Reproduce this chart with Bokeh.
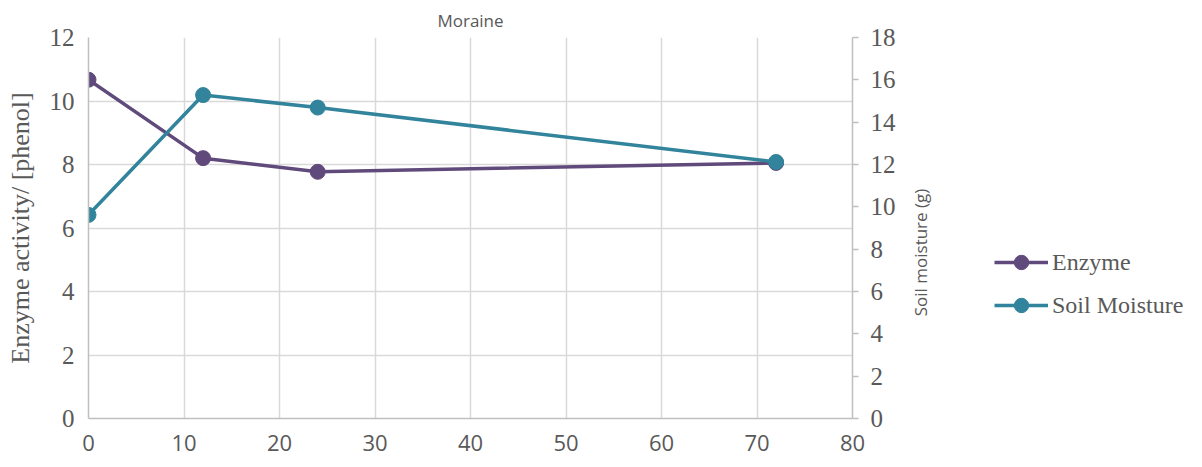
import math
from bokeh.plotting import figure
from bokeh.layouts import row
from bokeh.models import Range1d, LinearAxis, Legend, LegendItem, FixedTicker, Title, Label
from bokeh.embed import file_html
from bokeh.resources import INLINE

hours = [0, 12, 24, 72]
enzyme = [10.67, 8.2, 7.77, 8.05]
moisture = [9.62, 15.28, 14.69, 12.12]
x_ticks = [0, 10, 20, 30, 40, 50, 60, 70, 80]
left_ticks = [0, 2, 4, 6, 8, 10, 12]
right_ticks = [0, 2, 4, 6, 8, 10, 12, 14, 16, 18]

PURPLE = "#604a7b"
TEAL = "#31849b"
GRID = "#d9d9d9"
AXIS = "#bfbfbf"
TXT = "#595959"

MAIN_W = 905
FRAME_BOTTOM = 418
p = figure(width=MAIN_W, height=467, output_backend="svg", toolbar_location=None,
           x_range=Range1d(0, 80), y_range=Range1d(0, 12),
           min_border_left=88, min_border_right=MAIN_W - 852, min_border_top=37,
           min_border_bottom=467 - FRAME_BOTTOM)
p.extra_y_ranges = {"m": Range1d(0, 18)}

p.outline_line_color = None
p.title = Title(text="Moraine", align="center",
                text_font="Open Sans", text_font_size="17px",
                text_color=TXT, text_font_style="normal", offset=0, standoff=11)

p.xaxis.ticker = FixedTicker(ticks=x_ticks)
p.yaxis.ticker = FixedTicker(ticks=left_ticks)
for ax in (p.xaxis[0], p.yaxis[0]):
    ax.axis_line_color = AXIS
    ax.axis_line_width = 1.5
    ax.major_tick_line_color = None
    ax.minor_tick_line_color = None
    ax.major_label_text_color = TXT
p.xaxis.major_label_text_font = "Open Sans"
p.xaxis.major_label_text_font_size = "22px"
p.xaxis.major_label_standoff = 10
p.yaxis.major_label_text_font = "Liberation Serif"
p.yaxis.major_label_text_font_size = "25px"
p.yaxis.major_label_standoff = 8
p.yaxis.axis_label = "Enzyme activity/ [phenol]"
p.yaxis.axis_label_text_font = "Liberation Serif"
p.yaxis.axis_label_text_font_size = "26px"
p.yaxis.axis_label_text_font_style = "normal"
p.yaxis.axis_label_text_color = TXT
p.yaxis.axis_label_standoff = 12

ry = LinearAxis(y_range_name="m", ticker=FixedTicker(ticks=right_ticks))
ry.axis_line_color = AXIS
ry.axis_line_width = 1.5
ry.major_tick_line_color = AXIS
ry.major_tick_line_width = 1.5
ry.major_tick_out = 6
ry.major_tick_in = 0
ry.minor_tick_line_color = None
ry.major_label_text_font = "Liberation Serif"
ry.major_label_text_font_size = "25px"
ry.major_label_text_color = TXT
ry.major_label_standoff = 12
p.add_layout(ry, "right")

p.xgrid.grid_line_color = GRID
p.xgrid.grid_line_width = 1.5
p.ygrid.grid_line_color = GRID
p.ygrid.grid_line_width = 1.5

p.line(hours, enzyme, line_color=PURPLE, line_width=3.5)
p.scatter(hours, enzyme, size=15, fill_color=PURPLE, line_color=PURPLE)
p.line(hours, moisture, line_color=TEAL, line_width=3.5, y_range_name="m")
p.scatter(hours, moisture, size=15, fill_color=TEAL, line_color=TEAL, y_range_name="m")

# side panel: right axis title + legend
SIDE_W = 1202 - MAIN_W
q = figure(width=SIDE_W, height=467, output_backend="svg", toolbar_location=None,
           x_range=Range1d(0, 1), y_range=Range1d(0, 1), x_axis_type=None, y_axis_type=None,
           min_border=0)
q.outline_line_color = None
q.grid.visible = False

q.add_layout(Label(x=920 - MAIN_W, y=FRAME_BOTTOM - 252, x_units="screen", y_units="screen",
                   text="Soil moisture (g)", angle=math.pi / 2, text_align="center",
                   text_baseline="middle", text_font="Open Sans", text_font_size="17px",
                   text_color=TXT))

# legend proxies: the series' first points lie outside this panel's ranges, so nothing shows
d1l = q.line(hours[:1], enzyme[:1], line_color=PURPLE, line_width=3.5)
d1s = q.scatter(hours[:1], enzyme[:1], size=15, fill_color=PURPLE, line_color=PURPLE)
d2l = q.line(hours[:1], moisture[:1], line_color=TEAL, line_width=3.5)
d2s = q.scatter(hours[:1], moisture[:1], size=15, fill_color=TEAL, line_color=TEAL)

legend = Legend(items=[LegendItem(label="Enzyme", renderers=[d1l, d1s]),
                       LegendItem(label="Soil Moisture", renderers=[d2l, d2s])],
                location=(998 - MAIN_W - 4, FRAME_BOTTOM - 323), background_fill_alpha=0,
                border_line_color=None,
                label_text_font="Liberation Serif", label_text_font_size="24px",
                label_text_color=TXT, glyph_width=54, glyph_height=36, spacing=7,
                label_standoff=4, padding=4, margin=0)
q.add_layout(legend, "center")

layout = row(p, q, spacing=0)
open("out.html", "w").write(file_html(layout, INLINE))
